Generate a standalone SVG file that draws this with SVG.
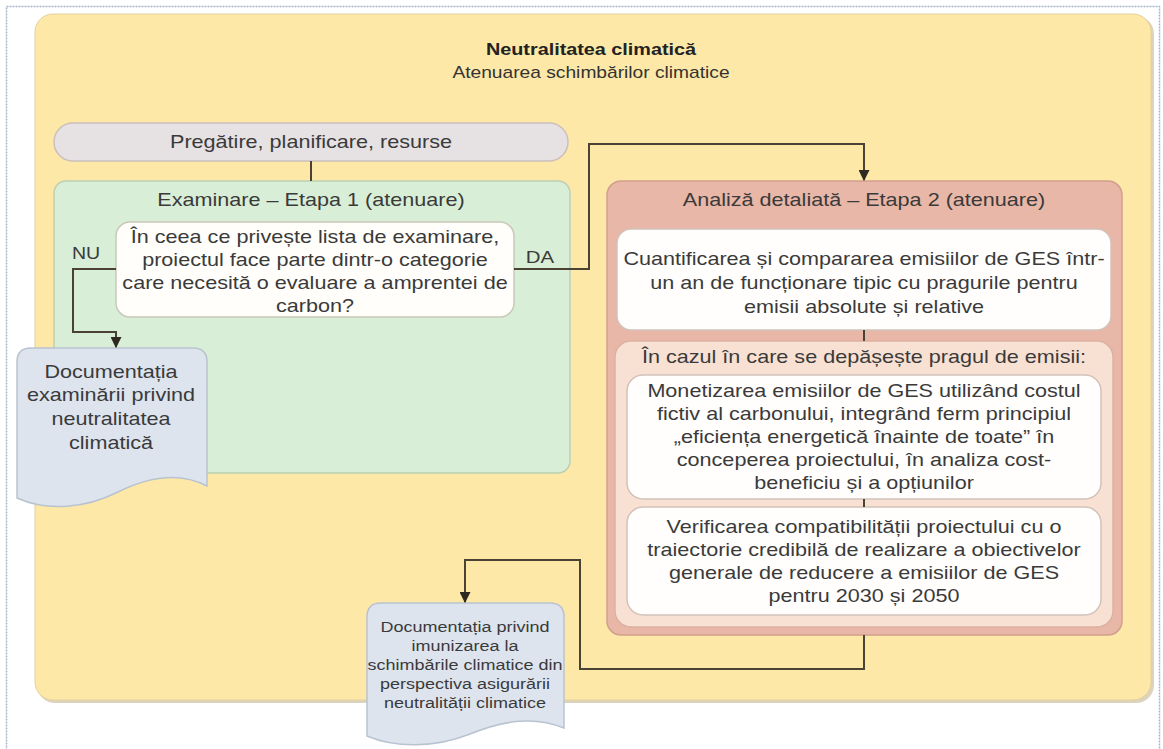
<svg xmlns="http://www.w3.org/2000/svg" width="1163" height="749" viewBox="0 0 1163 749">
<style>
text{font-family:"Liberation Sans",Arial,sans-serif;fill:#3a3a3a;text-anchor:middle}
.b{font-size:18px}
.s{font-size:15px}
.h{font-size:16.5px;font-weight:bold;fill:#222}
.h2{font-size:16px;fill:#333}
.con{fill:none;stroke:#4a4232;stroke-width:2}
.wb{fill:#fffefc;stroke:#d2c2ba;stroke-width:1.5}
.doc{fill:#dde4ee;stroke:#b9c3d0;stroke-width:1.5}
</style>
<defs>
<marker id="arr" viewBox="0 0 10 10" refX="9" refY="5" markerWidth="5.5" markerHeight="5.5" orient="auto" markerUnits="strokeWidth">
<path d="M0,0 L10,5 L0,10 Z" fill="#2e2a22"/>
</marker>
</defs>
<rect x="0" y="0" width="1163" height="749" fill="#ffffff"/>
<rect x="6.5" y="6.5" width="1153" height="770" fill="#ffffff" stroke="#a6b5ca" stroke-width="1.5" stroke-dasharray="2 1"/>
<g id="background">
<rect x="37" y="16" width="1117" height="687" rx="18" fill="#dcd3bf"/>
<rect x="35" y="14" width="1116" height="686" rx="18" fill="#fde8a8" stroke="#e3d29b" stroke-width="1"/>
<text class="h" transform="translate(591 0) scale(1.2 1)"><tspan x="0" y="55">Neutralitatea climatică</tspan></text>
<text class="h2" transform="translate(591 0) scale(1.2 1)"><tspan x="0" y="78">Atenuarea schimbărilor climatice</tspan></text>
</g>
<g id="pregatire">
<rect x="54" y="123" width="514" height="38" rx="19" fill="#e6e1e3" stroke="#cbc0bd" stroke-width="1.5"/>
<text class="b" transform="translate(311 0) scale(1.2 1)"><tspan x="0" y="148">Pregătire, planificare, resurse</tspan></text>
</g>
<g id="etapa1">
<rect x="54" y="181" width="516" height="292" rx="12" fill="#d9eed6" stroke="#bccfb3" stroke-width="1.5"/>
<text class="b" transform="translate(311 0) scale(1.2 1)"><tspan x="0" y="206">Examinare – Etapa 1 (atenuare)</tspan></text>
</g>
<g id="intrebare">
<rect x="116" y="222" width="398" height="95" rx="14" fill="#fffefa" stroke="#c9c9b9" stroke-width="1.5"/>
<text class="b" transform="translate(315 0) scale(1.2 1)"><tspan x="0" y="243">În ceea ce privește lista de examinare,</tspan><tspan x="0" y="266">proiectul face parte dintr-o categorie</tspan><tspan x="0" y="289">care necesită o evaluare a amprentei de</tspan><tspan x="0" y="312">carbon?</tspan></text>
</g>
<g id="labels">
<text class="b" transform="translate(86 0) scale(1.15 1)" style="font-size:17px"><tspan x="0" y="259">NU</tspan></text>
<text class="b" transform="translate(540 0) scale(1.2 1)" style="font-size:17px"><tspan x="0" y="263">DA</tspan></text>
</g>
<g id="doc1">
<path class="doc" d="M17,362 Q17,348 31,348 H193 Q207,348 207,362 V486 C180,472 150,476 118,492 C86,508 48,512 17,498 Z"/>
<text class="b" transform="translate(111 0) scale(1.2 1)"><tspan x="0" y="378">Documentația</tspan><tspan x="0" y="401">examinării privind</tspan><tspan x="0" y="425">neutralitatea</tspan><tspan x="0" y="449">climatică</tspan></text>
</g>
<g id="etapa2">
<rect x="607" y="181" width="515" height="454" rx="14" fill="#e8b7a7" stroke="#d29e8e" stroke-width="1.5"/>
<text class="b" transform="translate(864 0) scale(1.2 1)"><tspan x="0" y="206">Analiză detaliată – Etapa 2 (atenuare)</tspan></text>
</g>
<g id="cuantificare">
<rect class="wb" x="617" y="229" width="494" height="101" rx="14"/>
<text class="b" transform="translate(864 0) scale(1.2 1)"><tspan x="0" y="265">Cuantificarea și compararea emisiilor de GES într-</tspan><tspan x="0" y="289">un an de funcționare tipic cu pragurile pentru</tspan><tspan x="0" y="313">emisii absolute și relative</tspan></text>
</g>
<g id="depasire">
<rect x="615" y="341" width="498" height="286" rx="16" fill="#f8e0d3" stroke="#dbb1a2" stroke-width="1.5"/>
<text class="b" transform="translate(864 0) scale(1.2 1)"><tspan x="0" y="363">În cazul în care se depășește pragul de emisii:</tspan></text>
</g>
<g id="monetizare">
<rect class="wb" x="627" y="375" width="474" height="124" rx="16"/>
<text class="b" transform="translate(864 0) scale(1.2 1)"><tspan x="0" y="397">Monetizarea emisiilor de GES utilizând costul</tspan><tspan x="0" y="420">fictiv al carbonului, integrând ferm principiul</tspan><tspan x="0" y="443">„eficiența energetică înainte de toate” în</tspan><tspan x="0" y="466">conceperea proiectului, în analiza cost-</tspan><tspan x="0" y="489">beneficiu și a opțiunilor</tspan></text>
</g>
<g id="verificare">
<rect class="wb" x="627" y="507" width="474" height="108" rx="16"/>
<text class="b" transform="translate(864 0) scale(1.2 1)"><tspan x="0" y="533">Verificarea compatibilității proiectului  cu o</tspan><tspan x="0" y="556">traiectorie credibilă de realizare a obiectivelor</tspan><tspan x="0" y="579">generale de reducere a emisiilor de GES</tspan><tspan x="0" y="602">pentru 2030 și 2050</tspan></text>
</g>
<g id="doc2">
<path class="doc" d="M367,617 Q367,603 381,603 H550 Q564,603 564,617 V728 C535,716 505,720 470,734 C435,748 395,748 367,736 Z"/>
<text class="s" transform="translate(465 0) scale(1.2 1)"><tspan x="0" y="632">Documentația privind</tspan><tspan x="0" y="651">imunizarea la</tspan><tspan x="0" y="670">schimbările climatice din</tspan><tspan x="0" y="689">perspectiva asigurării</tspan><tspan x="0" y="708">neutralității climatice</tspan></text>
</g>
<g id="connectors">
<path class="con" d="M311,161 V181"/>
<path class="con" d="M116,269 H73 V332 H116 V347" marker-end="url(#arr)"/>
<path class="con" d="M514,269 H589 V144 H864 V180" marker-end="url(#arr)"/>
<path class="con" d="M864,330 V341"/>
<path class="con" d="M864,499 V507"/>
<path class="con" d="M864,635 V669 H580 V560 H465 V602" marker-end="url(#arr)"/>
</g>
</svg>
